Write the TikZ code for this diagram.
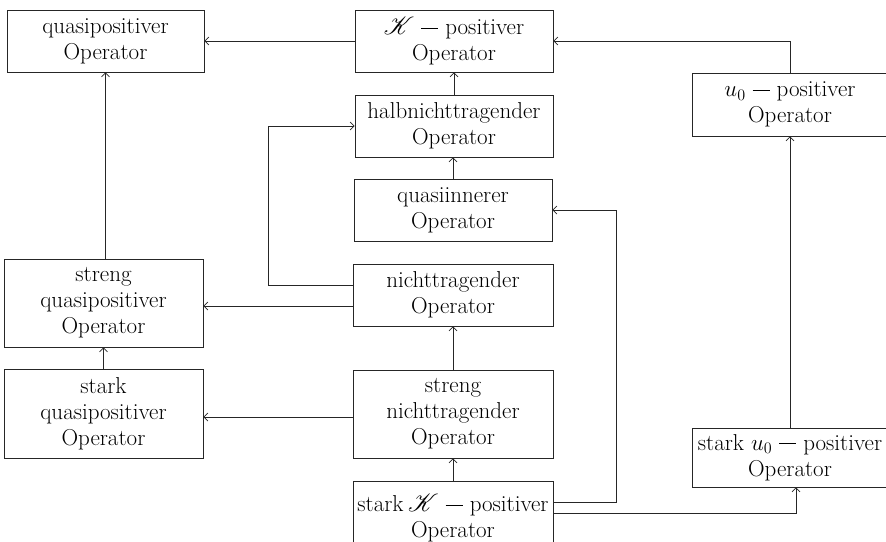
\documentclass[tikz,border=0pt]{standalone}
\usepackage{fix-cm}
\usepackage{mathrsfs}
\usepackage{fontspec}
\usetikzlibrary{arrows.meta}
\newcommand\myDash{\hspace{0.3em}\rule[0.25em]{0.75em}{0.05em}\hspace{0.3em}}
\begin{document}
\begin{tikzpicture}[x=1pt,y=-1pt,
  box/.style={draw=black!85, line width=0.7pt, align=center, inner sep=0pt,
    font=\fontsize{23}{26}\selectfont},
  arr/.style={draw=black!85, line width=0.7pt, -{Straight Barb[length=4pt,width=8pt]}}]
\useasboundingbox (0,0) rectangle (886,541);
\clip (0,0) rectangle (886,541);
\node[box, minimum width=197pt, minimum height=62pt] (qp) at (105.5,41) {quasipositiver\\Operator};
\node[box, minimum width=198pt, minimum height=62pt] (K) at (454,41) {$\mathscr{K}$\myDash positiver\\Operator};
\node[box, minimum width=196pt, minimum height=63pt] (u0) at (790,104.5) {$u_0$\myDash positiver\\Operator};
\node[box, minimum width=198pt, minimum height=62pt] (hn) at (454,126) {halbnichttragender\\Operator};
\node[box, minimum width=198pt, minimum height=62pt] (qi) at (453,210) {quasiinnerer\\Operator};
\node[box, minimum width=200pt, minimum height=62pt] (nt) at (453,295) {nichttragender\\Operator};
\node[box, minimum width=199pt, minimum height=88pt] (sqp) at (103.5,303) {streng\\quasipositiver\\Operator};
\node[box, minimum width=199pt, minimum height=89pt] (kqp) at (103.5,413.5) {stark\\quasipositiver\\Operator};
\node[box, minimum width=200pt, minimum height=88pt] (snt) at (453,414) {streng\\nichttragender\\Operator};
\node[box, minimum width=200pt, minimum height=74pt] (sK) at (453,518) {stark\hspace{0.2em}$\mathscr{K}$\myDash positiver\\Operator};
\node[box, minimum width=196pt, minimum height=59pt] (ku0) at (790,457.5) {stark $u_0$\myDash positiver\\Operator};

\draw[arr] (K.west) -- (qp.east);
\draw[arr] (u0.north) |- (K.east);
\draw[arr] (hn.north) -- (K.south);
\draw[arr] (qi.north) -- (qi.north |- hn.south);
\draw[arr] ([yshift=10pt]nt.west) -- ++(-84,0) |- (hn.west);
\draw[arr] ([yshift=-11pt]nt.west) -- ([yshift=-11pt]nt.west -| sqp.east);
\draw[arr] (sqp.north -| qp.south) -- (qp.south);
\draw[arr] (kqp.north) -- (sqp.south);
\draw[arr] (snt.north) -- (nt.south);
\draw[arr] ([yshift=-3pt]snt.west) -- ([yshift=-3pt]snt.west -| kqp.east);
\draw[arr] (sK.north) -- (snt.south);
\draw[arr] ([yshift=16pt]sK.east) -- ++(63,0) |- (qi.east);
\draw[arr] ([yshift=5pt]sK.east) -| ([xshift=6pt]ku0.south);
\draw[arr] (ku0.north) -- (u0.south);
\end{tikzpicture}
\end{document}
